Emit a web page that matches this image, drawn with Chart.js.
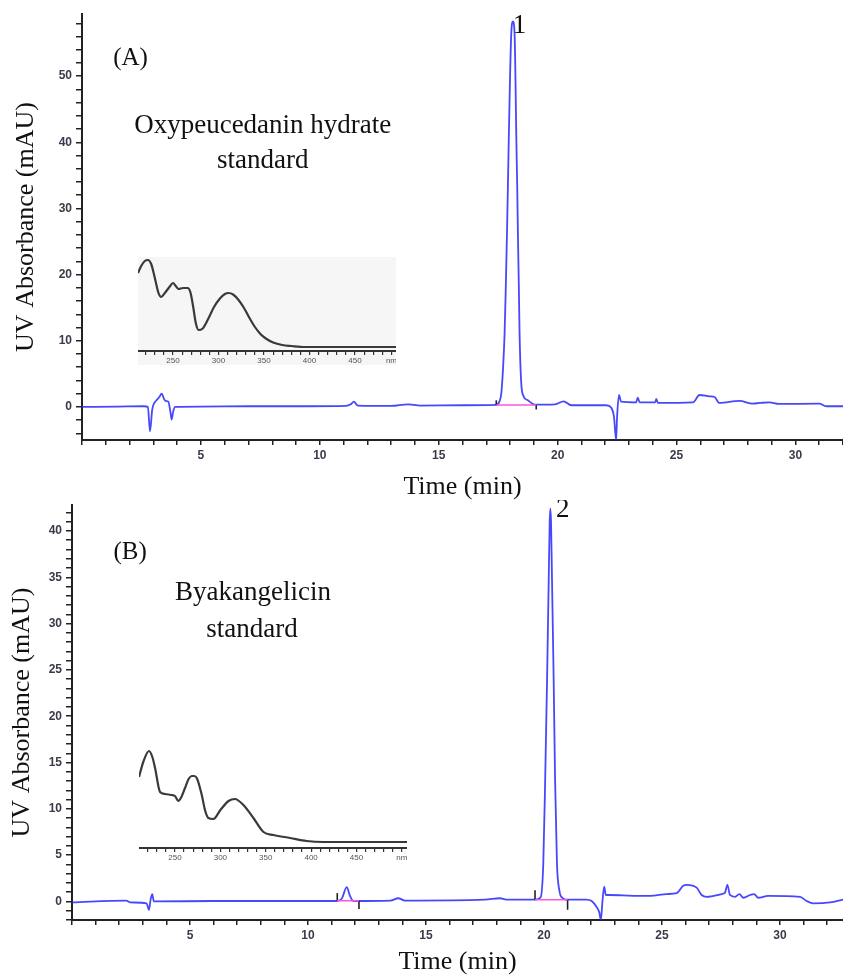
<!DOCTYPE html>
<html>
<head>
<meta charset="utf-8">
<script src="https://cdn.jsdelivr.net/npm/chart.js@4/dist/chart.umd.min.js"></script>
<style>
  html, body { margin: 0; padding: 0; background: #fff; }
  #wrap { position: relative; width: 843px; height: 976px; background: #fff; overflow: hidden; }
  canvas { position: absolute; }
  #c1 { left: 0; top: 0; }
  #c2 { left: 0; top: 500px; }
  #i1 { left: 138px; top: 257px; background: #f6f6f6; }
  #i2 { left: 139px; top: 748px; background: transparent; }
</style>
</head>
<body>
<div id="wrap">
  <canvas id="c1" width="843" height="500"></canvas>
  <canvas id="c2" width="843" height="476"></canvas>
  <canvas id="i1" width="258" height="108"></canvas>
  <canvas id="i2" width="268" height="114"></canvas>
</div>
<script>
// ---------------- DATA ----------------
// Chromatogram (A): Oxypeucedanin hydrate standard
const timeA = [0, 1.5, 2.6, 2.77, 2.86, 2.95, 3.0, 3.13, 3.25, 3.35, 3.45, 3.52, 3.63, 3.72, 3.77, 3.84, 3.92,
  5.0, 7.0, 9.5, 11.1, 11.3, 11.43, 11.6, 13.0, 13.7, 13.95, 14.2, 16.0, 17.42, 17.55, 17.63, 17.7, 17.77, 17.82,
  17.87, 17.91, 17.95, 18.0, 18.05, 18.12, 18.19, 18.23, 18.26, 18.3, 18.33, 18.37, 18.4, 18.47, 18.57, 18.75,
  19.03, 19.9, 20.25, 20.57, 22.04, 22.25, 22.37, 22.46, 22.5, 22.58, 22.67, 23.3, 23.37, 23.45, 24.1, 24.15,
  24.22, 25.69, 25.97, 26.39, 26.6, 26.8, 27.65, 28.2, 28.5, 28.9, 29.3, 31.0, 31.3, 32.0];
const absA = [0, 0.05, 0.1, 0.0, -3.7, -0.5, 0.3, 1.0, 1.5, 2.0, 1.2, 0.9, 0.8, -0.8, -1.9, -0.6, 0.0,
  0.05, 0.1, 0.1, 0.15, 0.4, 0.8, 0.2, 0.15, 0.4, 0.3, 0.2, 0.25, 0.3, 0.8, 2.0, 5.5, 11.1, 18,
  26.2, 33.5, 41.3, 50, 56.4, 58.3, 56.4, 49, 41.3, 33.5, 26.2, 18, 11.1, 3.6, 1.6, 1.0,
  0.35, 0.4, 0.85, 0.25, 0.25, -0.1, -1.5, -5.0, -1.5, 1.8, 0.8, 0.7, 1.4, 0.7, 0.7, 1.2,
  0.6, 0.7, 1.8, 1.6, 1.5, 0.6, 0.9, 0.5, 0.6, 0.7, 0.45, 0.5, 0.1, 0.1];
// integration baseline of peak 1 (start, end) and its value
const intA = [17.42, 19.1];
const intLevelA = 0.3;

// Chromatogram (B): Byakangelicin standard
const timeB = [0, 2.3, 2.47, 3.16, 3.26, 3.33, 3.4, 3.47, 6, 11.2, 11.43, 11.64, 11.78, 11.92, 13.5, 13.83, 14.1,
  17.5, 18.14, 18.4, 19.62, 19.86, 19.97, 20.05, 20.13, 20.2, 20.24, 20.27, 20.3, 20.34, 20.41, 20.47, 20.55,
  20.65, 20.79, 20.96, 21.8, 22.02, 22.23, 22.34, 22.41, 22.48, 22.55, 22.62, 22.8, 23.93, 24.5, 25.2, 25.62,
  25.9, 26.04, 26.47, 26.68, 26.9, 27.53, 27.67, 27.77, 27.88, 28.1, 28.28, 28.45, 28.73, 28.9, 29.08, 29.5,
  30.85, 31.13, 31.41, 32.12, 32.67];
const absB = [-0.1, 0.1, -0.1, -0.2, -0.9, 0.2, 0.8, 0.0, 0.05, 0.05, 0.3, 1.55, 0.6, 0.05, 0.1, 0.35, 0.1,
  0.2, 0.35, 0.2, 0.2, 0.46, 4.1, 13.1, 23.9, 34.7, 40.8, 42.4, 40.8, 34.7, 23.9, 13.1, 4.1,
  1.2, 0.36, 0.2, 0.2, 0.05, -0.6, -1.15, -2.0, 0.1, 1.6, 0.7, 0.7, 0.6, 0.6, 0.8, 0.9,
  1.7, 1.8, 1.5, 0.7, 0.5, 0.8, 0.95, 1.8, 0.7, 0.5, 0.8, 0.4, 0.7, 0.8, 0.4, 0.6,
  0.5, 0.05, -0.2, -0.1, 0.2];
const intB1 = [11.24, 12.16];
const intLevelB1 = 0.08;
const intB2 = [19.62, 21.0];
const intLevelB2 = 0.18;

// UV spectra insets (wavelength nm, relative absorbance)
const waveA = [211.5, 215, 219, 222.5, 226, 230, 234, 237, 241, 246, 250, 253, 256, 261, 266, 269, 272, 275, 278,
  282, 288, 295, 302, 307, 311, 316, 322, 328, 334, 340, 346, 352, 360, 370, 380, 395, 420, 495];
const specA = [78, 85, 90, 91, 87, 73, 58, 54, 58, 64, 68, 65, 62, 63, 63, 59, 45, 28, 21,
  22, 31, 44, 53, 57, 58, 56.5, 51, 43, 33, 24, 17, 12.5, 8.5, 6, 5, 4, 4, 4];
const waveB = [210.3, 215, 221.3, 225, 228, 233.5, 239, 246, 250, 253.7, 257, 261, 265, 268.4, 271, 274, 279.5,
  283, 286.8, 292.3, 300, 309, 316, 325.4, 336.4, 347.5, 358.5, 377, 395, 413.7, 505.7];
const specB = [71, 86, 97, 91, 80, 56, 54, 53, 52, 47, 51, 60, 69, 72, 72, 70, 53,
  38, 30, 29, 38, 47, 49, 43, 30, 16, 13, 10, 7, 6, 6];

// ---------------- HELPERS ----------------
const pts = (xs, ys) => xs.map((x, i) => ({x, y: ys[i]}));
const seg = (x0, y0, x1, y1) => [{x: x0, y: y0}, {x: x1, y: y1}];

Chart.defaults.font.family = '"Liberation Sans", Arial, sans-serif';
Chart.defaults.animation = false;

const notesPlugin = {
  id: 'notes',
  afterDatasetsDraw(chart, args, opts) {
    const {ctx} = chart;
    const xs = chart.scales.x, ys = chart.scales.y;
    (opts.items || []).forEach(n => {
      ctx.save();
      ctx.font = n.size + 'px "Liberation Serif", "Times New Roman", serif';
      ctx.fillStyle = '#111';
      ctx.textAlign = 'center';
      ctx.textBaseline = 'alphabetic';
      ctx.fillText(n.text, xs.getPixelForValue(n.x), ys.getPixelForValue(n.y));
      ctx.restore();
    });
  }
};

const BLUE = 'rgba(40,40,250,0.85)';
const PINK = '#ff55dd';
const AX = '#222';

function mainChart(id, cfg) {
  return new Chart(document.getElementById(id), {
    type: 'line',
    data: {
      datasets: [
        ...cfg.marks.map(m => ({data: m.data, borderColor: m.color, borderWidth: 1.6, pointRadius: 0, order: 0})),
        {data: cfg.series, borderColor: BLUE, borderWidth: 1.8, pointRadius: 0,
         cubicInterpolationMode: 'monotone', order: 1}
      ]
    },
    options: {
      responsive: false,
      layout: {padding: {top: cfg.padTop, left: 0, right: 0, bottom: 0}},
      plugins: {legend: {display: false}, tooltip: {enabled: false}, notes: {items: cfg.notes}},
      scales: {
        x: {
          type: 'linear', min: 0, max: cfg.xMax,
          afterFit: s => { s.height = cfg.xHeight; s.paddingLeft = 0; s.paddingRight = 0; },
          border: {display: true, color: AX, width: 2},
          grid: {drawOnChartArea: false, drawTicks: true, tickLength: 5, color: AX, lineWidth: 1.5},
          ticks: {stepSize: 1, autoSkip: false, maxRotation: 0, includeBounds: false, padding: 3,
                  color: '#3a3a4a', font: {size: 12, weight: 'bold'},
                  callback: v => (v > 0 && v % 5 === 0) ? String(v) : ''},
          title: {display: true, text: 'Time (min)', color: '#111',
                  font: {family: '"Liberation Serif", "Times New Roman", serif', size: 26, lineHeight: 1},
                  padding: {top: 0, bottom: cfg.xTitlePad}}
        },
        y: {
          min: cfg.yMin, max: cfg.yMax,
          afterFit: s => { s.width = cfg.yWidth; s.paddingTop = 0; s.paddingBottom = 0; },
          border: {display: true, color: AX, width: 2},
          grid: {drawOnChartArea: false, drawTicks: true, tickLength: 6, color: AX, lineWidth: 1.5},
          ticks: {stepSize: cfg.yStep, autoSkip: false, includeBounds: false, padding: 4,
                  color: '#3a3a4a', font: {size: 12, weight: 'bold'},
                  callback: v => (v % cfg.yLabelEvery === 0) ? String(v) : ''},
          title: {display: true, text: 'UV Absorbance (mAU)', color: '#111',
                  font: {family: '"Liberation Serif", "Times New Roman", serif', size: 26, lineHeight: 1},
                  padding: {top: cfg.yTitlePad, bottom: 0}}
        }
      }
    },
    plugins: [notesPlugin]
  });
}

function insetChart(id, waves, spec, yMax, xMin, xMax, lastTick) {
  return new Chart(document.getElementById(id), {
    type: 'line',
    data: {datasets: [{data: pts(waves, spec), borderColor: '#3a3a3a', borderWidth: 2.2, pointRadius: 0,
                       cubicInterpolationMode: 'monotone'}]},
    options: {
      responsive: false,
      layout: {padding: 0},
      plugins: {legend: {display: false}, tooltip: {enabled: false}},
      scales: {
        x: {
          type: 'linear', min: xMin, max: xMax,
          afterFit: s => { s.height = 14; s.paddingLeft = 0; s.paddingRight = 0; },
          border: {display: true, color: '#333', width: 2},
          grid: {drawOnChartArea: false, drawTicks: true, tickLength: 4, color: '#333', lineWidth: 1.2},
          ticks: {stepSize: 10, autoSkip: false, maxRotation: 0, includeBounds: false, padding: 1,
                  color: '#555', font: {size: 8},
                  callback: v => v === lastTick ? 'nm' : (v % 50 === 0 ? String(v) : '')}
        },
        y: {display: false, min: 0, max: yMax}
      }
    }
  });
}

// ---------------- CHART (A) ----------------
mainChart('c1', {
  series: pts(timeA, absA),
  marks: [
    {data: seg(intA[0], intLevelA, intA[1], intLevelA), color: PINK},
    {data: seg(intA[0], intLevelA, intA[0], 1.0), color: AX},
    {data: seg(intA[1], intLevelA, intA[1], -0.4), color: AX}
  ],
  padTop: 14, xMax: 32, xHeight: 60, xTitlePad: 0, yMin: -5, yMax: 59.4, yStep: 2, yLabelEvery: 10,
  yWidth: 82, yTitlePad: 13,
  notes: [
    {text: '(A)', x: 2.04, y: 51.7, size: 25},
    {text: 'Oxypeucedanin hydrate', x: 7.6, y: 41.4, size: 27},
    {text: 'standard', x: 7.6, y: 36.1, size: 27},
    {text: '1', x: 18.4, y: 56.5, size: 27}
  ]
});

// ---------------- CHART (B) ----------------
mainChart('c2', {
  series: pts(timeB, absB),
  marks: [
    {data: seg(intB1[0], intLevelB1, intB1[1], intLevelB1), color: PINK},
    {data: seg(intB1[0], intLevelB1, intB1[0], 0.9), color: AX},
    {data: seg(intB1[1], intLevelB1, intB1[1], -0.8), color: AX},
    {data: seg(intB2[0], intLevelB2, intB2[1], intLevelB2), color: PINK},
    {data: seg(intB2[0], intLevelB2, intB2[0], 1.2), color: AX},
    {data: seg(intB2[1], intLevelB2, intB2[1], -0.9), color: AX}
  ],
  padTop: 5, xMax: 32.67, xHeight: 56, xTitlePad: 1, yMin: -2, yMax: 42.8, yStep: 1, yLabelEvery: 5,
  yWidth: 72, yTitlePad: 9,
  notes: [
    {text: '(B)', x: 2.46, y: 37.0, size: 25},
    {text: 'Byakangelicin', x: 7.67, y: 32.5, size: 27},
    {text: 'standard', x: 7.63, y: 28.6, size: 27},
    {text: '2', x: 20.8, y: 41.5, size: 27}
  ]
});

// ---------------- INSETS ----------------
insetChart('i1', waveA, specA, 94, 211.5, 495, 490);
insetChart('i2', waveB, specB, 100, 210.3, 505.7, 500);
</script>
</body>
</html>
